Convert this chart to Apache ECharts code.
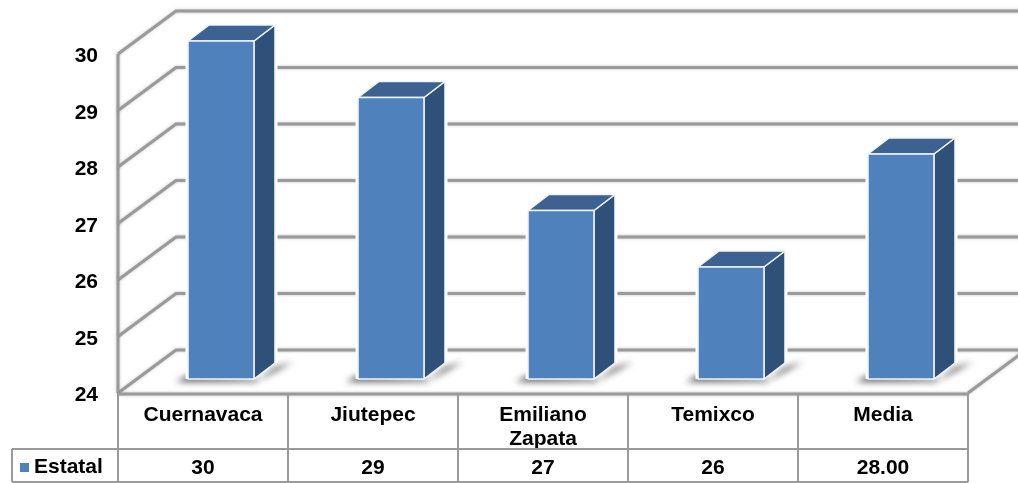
<!DOCTYPE html>
<html><head><meta charset="utf-8">
<style>html,body{margin:0;padding:0;background:#fff}#c{width:1018px;height:483px}</style>
<script src="https://cdn.jsdelivr.net/npm/echarts@6/dist/echarts.min.js"></script>
</head><body><div id="c"></div>
<script>
var categories = ['Cuernavaca', 'Jiutepec', 'Emiliano\nZapata', 'Temixco', 'Media'];
var estatal = [30, 29, 27, 26, 28];
var valueLabels = ['30', '29', '27', '26', '28.00'];
var yTicks = [24, 25, 26, 27, 28, 29, 30];

var FONT = '"Liberation Sans", Arial, sans-serif';
var FS = 21;
var LINE = '#9a9a9a';
var WALL_DX = 58, WALL_DY = -43;      // wall depth
var BAR_SHIFT_X = 18, BAR_SHIFT_Y = -14; // bar placement inside the floor
var DEPTH_X = 21, DEPTH_Y = -16;      // bar depth
var BAR_RATIO = 0.388;
var OFF = 3000;

var soft = { shadowBlur: 3, shadowColor: 'rgba(140,140,140,0.55)' };
function wallItem(params, api) {
  var cs = params.coordSys, y = api.coord([0, api.value(1)])[1];
  var l = cs.x, r = cs.x + cs.width;
  function s(w) { return { stroke: LINE, lineWidth: w || 3, fill: null, lineJoin: 'miter', shadowBlur: soft.shadowBlur, shadowColor: soft.shadowColor }; }
  var kids = [{
    type: 'polyline',
    shape: { points: [[l, y], [l + WALL_DX, y + WALL_DY], [l + 60 + r, y + WALL_DY]] },
    style: s()
  }];
  if (api.value(1) === yTicks[0]) {
    kids.push({ type: 'line', shape: { x1: r, y1: y, x2: r + WALL_DX, y2: y + WALL_DY }, style: s() });
    kids.push({ type: 'line', shape: { x1: l, y1: cs.y, x2: l, y2: y }, style: s() });
    kids.push({ type: 'line', shape: { x1: l, y1: y + 1, x2: r, y2: y + 1 }, style: s() });
  }
  return { type: 'group', children: kids };
}

function shadowItem(params, api) {
  var band = api.size([1, 0])[0], w = band * BAR_RATIO;
  var c = api.coord([api.value(0), yTicks[0]]);
  var x0 = c[0] - w / 2 + BAR_SHIFT_X, x1 = x0 + w, y = c[1] + BAR_SHIFT_Y;
  var pts = [[x0 - 12, y + 3], [x1 + 2, y + 3], [x1 + DEPTH_X, y + DEPTH_Y + 4], [x1 + DEPTH_X + 18, y + DEPTH_Y - 1], [x1 + 8, y], [x0, y - 4]];
  return {
    type: 'polygon',
    shape: { points: pts.map(function (p) { return [p[0] - OFF, p[1]]; }) },
    style: { fill: '#000', shadowBlur: 6, shadowOffsetX: OFF, shadowColor: 'rgba(90,90,90,0.95)' }
  };
}

function barItem(params, api) {
  var band = api.size([1, 0])[0], w = band * BAR_RATIO;
  var top = api.coord([api.value(0), api.value(1)]);
  var base = api.coord([api.value(0), yTicks[0]]);
  var x0 = top[0] - w / 2 + BAR_SHIFT_X, x1 = x0 + w;
  var yt = top[1] + BAR_SHIFT_Y + 1, yb = base[1] + BAR_SHIFT_Y;
  function st(f) { return { fill: f, stroke: '#f1f5fa', lineWidth: 1.5, lineJoin: 'round' }; }
  var outline = [[x0, yb], [x0, yt], [x0 + DEPTH_X, yt + DEPTH_Y], [x1 + DEPTH_X, yt + DEPTH_Y], [x1 + DEPTH_X, yb + DEPTH_Y], [x1, yb]];
  return { type: 'group', children: [
    { type: 'polyline', shape: { points: outline.slice(0, 5) }, style: { fill: null, stroke: '#fff', lineWidth: 5 } },
    { type: 'polygon', shape: { points: [[x1, yt], [x1 + DEPTH_X, yt + DEPTH_Y], [x1 + DEPTH_X, yb + DEPTH_Y], [x1, yb]] }, style: st('#2f5179') },
    { type: 'polygon', shape: { points: [[x0, yt], [x0 + DEPTH_X, yt + DEPTH_Y], [x1 + DEPTH_X, yt + DEPTH_Y], [x1, yt]] }, style: st('#3d6191') },
    { type: 'rect', shape: { x: x0, y: yt, width: w, height: yb - yt }, style: st('#4f81bd') }
  ] };
}

function tableItem(params, api) {
  var i = api.value(0), band = api.size([1, 0])[0];
  var c = api.coord([i, yTicks[0]]), cs = params.coordSys;
  var y = c[1], xr = c[0] + band / 2, l = cs.x;
  var r1 = y + 56, r2 = y + 89;
  var ls = { stroke: LINE, lineWidth: 2 };
  var kids = [
    { type: 'line', shape: { x1: xr, y1: y, x2: xr, y2: r2 }, style: ls },
    { type: 'text', x: c[0], y: y + 75, style: { text: valueLabels[i], font: 'bold ' + FS + 'px ' + FONT, fill: '#000', align: 'center', verticalAlign: 'middle' } }
  ];
  if (i === 0) {
    kids.push({ type: 'line', shape: { x1: l, y1: y, x2: l, y2: r2 }, style: ls });
    kids.push({ type: 'line', shape: { x1: 12, y1: r1, x2: 12, y2: r2 }, style: ls });
    kids.push({ type: 'line', shape: { x1: 12, y1: r1, x2: cs.x + cs.width, y2: r1 }, style: ls });
    kids.push({ type: 'line', shape: { x1: 12, y1: r2, x2: cs.x + cs.width, y2: r2 }, style: ls });
  }
  return { type: 'group', children: kids };
}

var chart = echarts.init(document.getElementById('c'), null, { renderer: 'canvas' });
chart.setOption({
  animation: false,
  backgroundColor: '#fff',
  grid: { left: 118, right: 50, top: 54, bottom: 90 },
  legend: {
    data: ['Estatal'], left: 20, top: 457, padding: 0, icon: 'rect', itemWidth: 9, itemHeight: 9, itemGap: 5,
    textStyle: { fontFamily: FONT, fontWeight: 'bold', fontSize: FS, color: '#000' }
  },
  xAxis: {
    type: 'category', data: categories,
    axisLine: { show: false }, axisTick: { show: false },
    axisLabel: { interval: 0, margin: 10, fontFamily: FONT, fontWeight: 'bold', fontSize: FS, color: '#000', lineHeight: 24 }
  },
  yAxis: {
    type: 'value', min: 24, max: 30, interval: 1,
    splitLine: { show: false }, axisLine: { show: false }, axisTick: { show: false },
    axisLabel: { margin: 20, fontFamily: FONT, fontWeight: 'bold', fontSize: FS, color: '#000', verticalAlign: 'top', lineHeight: 5 }
  },
  series: [
    { type: 'custom', name: 'pared', renderItem: wallItem, z: 1, silent: true,
      data: yTicks.map(function (t) { return [0, t]; }), encode: { x: 0, y: 1 } },
    { type: 'custom', name: 'tabla', renderItem: tableItem, z: 1, silent: true,
      data: estatal.map(function (v, i) { return [i, v]; }), encode: { x: 0, y: 1 } },
    { type: 'custom', name: 'sombra', renderItem: shadowItem, z: 2, silent: true,
      data: estatal.map(function (v, i) { return [i, v]; }), encode: { x: 0, y: 1 } },
    { type: 'custom', name: 'Estatal', renderItem: barItem, z: 3,
      itemStyle: { color: '#4f81bd' },
      data: estatal.map(function (v, i) { return [i, v]; }), encode: { x: 0, y: 1 } }
  ]
});
</script></body></html>
